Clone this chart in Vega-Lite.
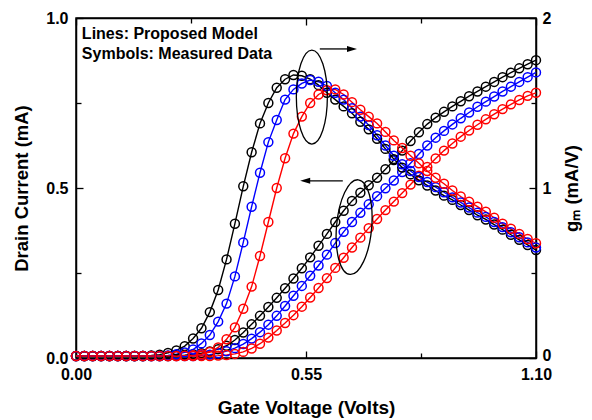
{
  "$schema": "https://vega.github.io/schema/vega-lite/v6.json",
  "width": 460,
  "height": 340,
  "autosize": {"type": "none"},
  "padding": {"left": 76, "top": 18, "right": 56, "bottom": 62},
  "background": "white",
  "config": {
    "view": {"stroke": "black", "strokeWidth": 1.5},
    "font": "Liberation Sans",
    "axis": {
      "grid": false,
      "domainColor": "black",
      "domainWidth": 1.5,
      "tickColor": "black",
      "tickWidth": 1.3,
      "labelFont": "Liberation Sans",
      "labelFontWeight": "bold",
      "labelFontSize": 16,
      "labelColor": "black",
      "titleFont": "Liberation Sans",
      "titleFontWeight": "bold",
      "titleColor": "black"
    }
  },
  "datasets": {
    "curves": [
      {"v":0,"s":"A","id":0.006,"gm":0.012},{"v":0.02,"s":"A","id":0.006,"gm":0.012},{"v":0.04,"s":"A","id":0.006,"gm":0.012},{"v":0.06,"s":"A","id":0.006,"gm":0.012},{"v":0.08,"s":"A","id":0.006,"gm":0.012},{"v":0.1,"s":"A","id":0.006,"gm":0.012},{"v":0.12,"s":"A","id":0.006,"gm":0.012},{"v":0.14,"s":"A","id":0.006,"gm":0.012},{"v":0.16,"s":"A","id":0.006,"gm":0.012},{"v":0.18,"s":"A","id":0.006,"gm":0.015},{"v":0.2,"s":"A","id":0.006,"gm":0.02},{"v":0.22,"s":"A","id":0.006,"gm":0.03},{"v":0.24,"s":"A","id":0.007,"gm":0.045},{"v":0.26,"s":"A","id":0.008,"gm":0.07},{"v":0.28,"s":"A","id":0.011,"gm":0.115},{"v":0.3,"s":"A","id":0.014,"gm":0.175},{"v":0.32,"s":"A","id":0.019,"gm":0.27},{"v":0.34,"s":"A","id":0.026,"gm":0.4},{"v":0.36,"s":"A","id":0.036,"gm":0.58},{"v":0.38,"s":"A","id":0.053,"gm":0.79},{"v":0.4,"s":"A","id":0.075,"gm":1.01},{"v":0.42,"s":"A","id":0.099,"gm":1.21},{"v":0.44,"s":"A","id":0.124,"gm":1.38},{"v":0.46,"s":"A","id":0.15,"gm":1.5},{"v":0.48,"s":"A","id":0.177,"gm":1.59},{"v":0.5,"s":"A","id":0.205,"gm":1.64},{"v":0.52,"s":"A","id":0.234,"gm":1.665},{"v":0.54,"s":"A","id":0.264,"gm":1.66},{"v":0.56,"s":"A","id":0.296,"gm":1.64},{"v":0.58,"s":"A","id":0.33,"gm":1.605},{"v":0.6,"s":"A","id":0.365,"gm":1.56},{"v":0.62,"s":"A","id":0.4,"gm":1.52},{"v":0.64,"s":"A","id":0.433,"gm":1.48},{"v":0.66,"s":"A","id":0.462,"gm":1.44},{"v":0.68,"s":"A","id":0.486,"gm":1.39},{"v":0.7,"s":"A","id":0.508,"gm":1.345},{"v":0.72,"s":"A","id":0.53,"gm":1.29},{"v":0.74,"s":"A","id":0.555,"gm":1.23},{"v":0.76,"s":"A","id":0.582,"gm":1.17},{"v":0.78,"s":"A","id":0.61,"gm":1.12},{"v":0.8,"s":"A","id":0.638,"gm":1.08},{"v":0.82,"s":"A","id":0.664,"gm":1.045},{"v":0.84,"s":"A","id":0.688,"gm":1.015},{"v":0.86,"s":"A","id":0.707,"gm":0.985},{"v":0.88,"s":"A","id":0.724,"gm":0.955},{"v":0.9,"s":"A","id":0.74,"gm":0.93},{"v":0.92,"s":"A","id":0.755,"gm":0.9},{"v":0.94,"s":"A","id":0.77,"gm":0.87},{"v":0.96,"s":"A","id":0.784,"gm":0.84},{"v":0.98,"s":"A","id":0.798,"gm":0.815},{"v":1,"s":"A","id":0.812,"gm":0.785},{"v":1.02,"s":"A","id":0.826,"gm":0.755},{"v":1.04,"s":"A","id":0.839,"gm":0.725},{"v":1.06,"s":"A","id":0.852,"gm":0.695},{"v":1.08,"s":"A","id":0.864,"gm":0.665},{"v":1.1,"s":"A","id":0.876,"gm":0.635},

      {"v":0,"s":"B","id":0.006,"gm":0.012},{"v":0.02,"s":"B","id":0.006,"gm":0.012},{"v":0.04,"s":"B","id":0.006,"gm":0.012},{"v":0.06,"s":"B","id":0.006,"gm":0.012},{"v":0.08,"s":"B","id":0.006,"gm":0.012},{"v":0.1,"s":"B","id":0.006,"gm":0.012},{"v":0.12,"s":"B","id":0.006,"gm":0.012},{"v":0.14,"s":"B","id":0.006,"gm":0.012},{"v":0.16,"s":"B","id":0.006,"gm":0.012},{"v":0.18,"s":"B","id":0.006,"gm":0.012},{"v":0.2,"s":"B","id":0.006,"gm":0.012},{"v":0.22,"s":"B","id":0.006,"gm":0.015},{"v":0.24,"s":"B","id":0.006,"gm":0.022},{"v":0.26,"s":"B","id":0.006,"gm":0.033},{"v":0.28,"s":"B","id":0.006,"gm":0.05},{"v":0.3,"s":"B","id":0.008,"gm":0.086},{"v":0.32,"s":"B","id":0.01,"gm":0.135},{"v":0.34,"s":"B","id":0.014,"gm":0.214},{"v":0.36,"s":"B","id":0.02,"gm":0.32},{"v":0.38,"s":"B","id":0.029,"gm":0.48},{"v":0.4,"s":"B","id":0.041,"gm":0.68},{"v":0.42,"s":"B","id":0.057,"gm":0.89},{"v":0.44,"s":"B","id":0.076,"gm":1.09},{"v":0.46,"s":"B","id":0.098,"gm":1.27},{"v":0.48,"s":"B","id":0.124,"gm":1.4},{"v":0.5,"s":"B","id":0.153,"gm":1.52},{"v":0.52,"s":"B","id":0.183,"gm":1.58},{"v":0.54,"s":"B","id":0.212,"gm":1.615},{"v":0.56,"s":"B","id":0.242,"gm":1.635},{"v":0.58,"s":"B","id":0.272,"gm":1.625},{"v":0.6,"s":"B","id":0.304,"gm":1.6},{"v":0.62,"s":"B","id":0.338,"gm":1.56},{"v":0.64,"s":"B","id":0.371,"gm":1.52},{"v":0.66,"s":"B","id":0.4,"gm":1.47},{"v":0.68,"s":"B","id":0.427,"gm":1.42},{"v":0.7,"s":"B","id":0.452,"gm":1.37},{"v":0.72,"s":"B","id":0.476,"gm":1.31},{"v":0.74,"s":"B","id":0.499,"gm":1.25},{"v":0.76,"s":"B","id":0.522,"gm":1.19},{"v":0.78,"s":"B","id":0.547,"gm":1.14},{"v":0.8,"s":"B","id":0.573,"gm":1.1},{"v":0.82,"s":"B","id":0.6,"gm":1.065},{"v":0.84,"s":"B","id":0.625,"gm":1.035},{"v":0.86,"s":"B","id":0.648,"gm":1.005},{"v":0.88,"s":"B","id":0.668,"gm":0.975},{"v":0.9,"s":"B","id":0.687,"gm":0.945},{"v":0.92,"s":"B","id":0.705,"gm":0.915},{"v":0.94,"s":"B","id":0.722,"gm":0.885},{"v":0.96,"s":"B","id":0.739,"gm":0.855},{"v":0.98,"s":"B","id":0.754,"gm":0.83},{"v":1,"s":"B","id":0.769,"gm":0.8},{"v":1.02,"s":"B","id":0.784,"gm":0.77},{"v":1.04,"s":"B","id":0.798,"gm":0.74},{"v":1.06,"s":"B","id":0.812,"gm":0.71},{"v":1.08,"s":"B","id":0.826,"gm":0.68},{"v":1.1,"s":"B","id":0.84,"gm":0.65},

      {"v":0,"s":"C","id":0.006,"gm":0.012},{"v":0.02,"s":"C","id":0.006,"gm":0.012},{"v":0.04,"s":"C","id":0.006,"gm":0.012},{"v":0.06,"s":"C","id":0.006,"gm":0.012},{"v":0.08,"s":"C","id":0.006,"gm":0.012},{"v":0.1,"s":"C","id":0.006,"gm":0.012},{"v":0.12,"s":"C","id":0.006,"gm":0.012},{"v":0.14,"s":"C","id":0.006,"gm":0.012},{"v":0.16,"s":"C","id":0.006,"gm":0.012},{"v":0.18,"s":"C","id":0.006,"gm":0.012},{"v":0.2,"s":"C","id":0.006,"gm":0.012},{"v":0.22,"s":"C","id":0.006,"gm":0.012},{"v":0.24,"s":"C","id":0.006,"gm":0.012},{"v":0.26,"s":"C","id":0.006,"gm":0.013},{"v":0.28,"s":"C","id":0.006,"gm":0.016},{"v":0.3,"s":"C","id":0.006,"gm":0.022},{"v":0.32,"s":"C","id":0.006,"gm":0.035},{"v":0.34,"s":"C","id":0.007,"gm":0.062},{"v":0.36,"s":"C","id":0.009,"gm":0.11},{"v":0.38,"s":"C","id":0.012,"gm":0.18},{"v":0.4,"s":"C","id":0.018,"gm":0.29},{"v":0.42,"s":"C","id":0.028,"gm":0.42},{"v":0.44,"s":"C","id":0.042,"gm":0.6},{"v":0.46,"s":"C","id":0.06,"gm":0.8},{"v":0.48,"s":"C","id":0.081,"gm":1.0},{"v":0.5,"s":"C","id":0.103,"gm":1.175},{"v":0.52,"s":"C","id":0.126,"gm":1.32},{"v":0.54,"s":"C","id":0.151,"gm":1.42},{"v":0.56,"s":"C","id":0.178,"gm":1.5},{"v":0.58,"s":"C","id":0.206,"gm":1.55},{"v":0.6,"s":"C","id":0.235,"gm":1.575},{"v":0.62,"s":"C","id":0.265,"gm":1.58},{"v":0.64,"s":"C","id":0.295,"gm":1.55},{"v":0.66,"s":"C","id":0.325,"gm":1.505},{"v":0.68,"s":"C","id":0.354,"gm":1.46},{"v":0.7,"s":"C","id":0.382,"gm":1.42},{"v":0.72,"s":"C","id":0.409,"gm":1.38},{"v":0.74,"s":"C","id":0.435,"gm":1.33},{"v":0.76,"s":"C","id":0.46,"gm":1.28},{"v":0.78,"s":"C","id":0.485,"gm":1.235},{"v":0.8,"s":"C","id":0.51,"gm":1.19},{"v":0.82,"s":"C","id":0.536,"gm":1.145},{"v":0.84,"s":"C","id":0.562,"gm":1.1},{"v":0.86,"s":"C","id":0.587,"gm":1.06},{"v":0.88,"s":"C","id":0.61,"gm":1.025},{"v":0.9,"s":"C","id":0.631,"gm":0.985},{"v":0.92,"s":"C","id":0.651,"gm":0.95},{"v":0.94,"s":"C","id":0.669,"gm":0.92},{"v":0.96,"s":"C","id":0.686,"gm":0.89},{"v":0.98,"s":"C","id":0.702,"gm":0.86},{"v":1,"s":"C","id":0.717,"gm":0.825},{"v":1.02,"s":"C","id":0.732,"gm":0.79},{"v":1.04,"s":"C","id":0.746,"gm":0.76},{"v":1.06,"s":"C","id":0.759,"gm":0.73},{"v":1.08,"s":"C","id":0.771,"gm":0.7},{"v":1.1,"s":"C","id":0.78,"gm":0.675}
    ]
  },
  "data": {"name": "curves"},
  "layer": [
    {
      "encoding": {
        "x": {
          "field": "v", "type": "quantitative",
          "scale": {"domain": [0, 1.1], "nice": false, "zero": false},
          "axis": {
            "orient": "bottom",
            "title": "Gate Voltage (Volts)",
            "titleFontSize": 19,
            "titlePadding": 14,
            "values": [0, 0.275, 0.55, 0.825, 1.1],
            "labelExpr": "datum.value == 0.275 || datum.value == 0.825 ? '' : format(datum.value, '.2f')",
            "tickSize": {"condition": {"test": "datum.value == 0.275 || datum.value == 0.825", "value": -5}, "value": -7},
            "labelPadding": 15,
            "labelFlush": false,
            "labelOverlap": false
          }
        },
        "y": {
          "field": "id", "type": "quantitative",
          "scale": {"domain": [0, 1], "nice": false},
          "axis": {
            "orient": "left",
            "title": "Drain Current (mA)",
            "titleFontSize": 18.5,
            "titlePadding": 14,
            "values": [0, 0.25, 0.5, 0.75, 1],
            "labelExpr": "datum.value == 0.25 || datum.value == 0.75 ? '' : format(datum.value, '.1f')",
            "tickSize": {"condition": {"test": "datum.value == 0.25 || datum.value == 0.75", "value": -5}, "value": -7},
            "labelPadding": 15,
            "labelFlush": false,
            "labelOverlap": false
          }
        }
      },
      "layer": [
        {
          "mark": {"type": "line", "strokeWidth": 1.4},
          "encoding": {
            "color": {"field": "s", "type": "nominal", "scale": {"domain": ["A", "B", "C"], "range": ["#000000", "#0000ff", "#ff0000"]}, "legend": null}
          }
        },
        {
          "mark": {"type": "point", "filled": false, "size": 80, "strokeWidth": 1.5, "opacity": 1},
          "encoding": {
            "color": {"field": "s", "type": "nominal", "scale": {"domain": ["A", "B", "C"], "range": ["#000000", "#0000ff", "#ff0000"]}, "legend": null}
          }
        },
        {
          "data": {"values": [
            {"v": 0.014, "id": 0.953, "t": "Lines: Proposed Model"},
            {"v": 0.014, "id": 0.894, "t": "Symbols: Measured Data"}
          ]},
          "mark": {"type": "text", "align": "left", "baseline": "middle", "fontSize": 16, "fontWeight": "bold", "font": "Liberation Sans", "color": "black"},
          "encoding": {"text": {"field": "t"}}
        },
        {
          "data": {"values": [{"v": 0.665, "id": 0.385}]},
          "mark": {"type": "point", "shape": "M0,-1A0.37,1,0,1,1,0,1A0.37,1,0,1,1,0,-1Z", "size": 9025, "filled": false, "stroke": "black", "strokeWidth": 1.3, "angle": 5, "opacity": 1}
        },
        {
          "data": {"values": [{"v": 0.638, "v2": 0.55, "id": 0.521}]},
          "mark": {"type": "rule", "color": "black", "strokeWidth": 1.3},
          "encoding": {"x2": {"field": "v2"}}
        },
        {
          "data": {"values": [{"v": 0.548, "id": 0.521}]},
          "mark": {"type": "point", "shape": "M-1,0L1,-0.6L1,0.6Z", "size": 100, "filled": true, "color": "black", "opacity": 1}
        }
      ]
    },
    {
      "encoding": {
        "x": {
          "field": "v", "type": "quantitative",
          "scale": {"domain": [0, 1.1], "nice": false, "zero": false},
          "axis": {
            "orient": "top",
            "title": null,
            "labels": false,
            "values": [0, 0.275, 0.55, 0.825, 1.1],
            "tickSize": {"condition": {"test": "datum.value == 0.275 || datum.value == 0.825", "value": -5}, "value": -7}
          }
        },
        "y": {
          "field": "gm", "type": "quantitative",
          "scale": {"domain": [0, 2], "nice": false},
          "axis": {
            "orient": "right",
            "title": "gₘ (mA/V)",
            "titleFontSize": 18.5,
            "titleAngle": 270,
            "titleBaseline": "top",
            "titlePadding": 12,
            "values": [0, 0.5, 1, 1.5, 2],
            "labelExpr": "datum.value == 0.5 || datum.value == 1.5 ? '' : format(datum.value, 'd')",
            "tickSize": {"condition": {"test": "datum.value == 0.5 || datum.value == 1.5", "value": -5}, "value": -7},
            "labelOffset": {"condition": {"test": "datum.value == 0", "value": -3}, "value": 0},
            "labelPadding": 13,
            "labelFlush": false,
            "labelOverlap": false
          }
        }
      },
      "layer": [
        {
          "mark": {"type": "line", "strokeWidth": 1.4},
          "encoding": {
            "color": {"field": "s", "type": "nominal", "scale": {"domain": ["A", "B", "C"], "range": ["#000000", "#0000ff", "#ff0000"]}, "legend": null}
          }
        },
        {
          "mark": {"type": "point", "filled": false, "size": 80, "strokeWidth": 1.5, "opacity": 1},
          "encoding": {
            "color": {"field": "s", "type": "nominal", "scale": {"domain": ["A", "B", "C"], "range": ["#000000", "#0000ff", "#ff0000"]}, "legend": null}
          }
        },
        {
          "data": {"values": [{"v": 0.564, "gm": 1.535}]},
          "mark": {"type": "point", "shape": "M0,-1A0.33,1,0,1,1,0,1A0.33,1,0,1,1,0,-1Z", "size": 8836, "filled": false, "stroke": "black", "strokeWidth": 1.3, "opacity": 1}
        },
        {
          "data": {"values": [{"v": 0.583, "v2": 0.655, "gm": 1.818}]},
          "mark": {"type": "rule", "color": "black", "strokeWidth": 1.3},
          "encoding": {"x2": {"field": "v2"}}
        },
        {
          "data": {"values": [{"v": 0.66, "gm": 1.818}]},
          "mark": {"type": "point", "shape": "M1,0L-1,-0.6L-1,0.6Z", "size": 100, "filled": true, "color": "black", "opacity": 1}
        }
      ]
    }
  ],
  "resolve": {"scale": {"y": "independent", "color": "shared"}, "axis": {"x": "independent", "y": "independent"}}
}
